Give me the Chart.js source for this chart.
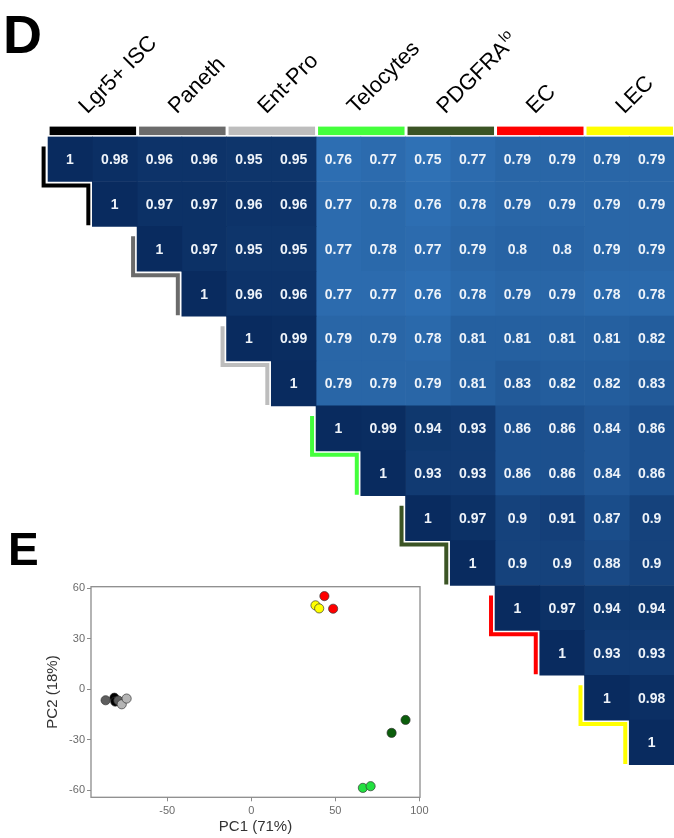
<!DOCTYPE html>
<html>
<head>
<meta charset="utf-8">
<script src="https://cdn.jsdelivr.net/npm/chart.js@4.4.1/dist/chart.umd.min.js"></script>
<style>
  html, body { margin: 0; padding: 0; background: #fff; }
  #wrap { position: relative; width: 674px; height: 838px; overflow: hidden; }
  #corrChart { position: absolute; left: 0; top: 0; }
  #pcaChart { position: absolute; left: 0; top: 560px; }
</style>
</head>
<body>
<div id="wrap">
  <canvas id="corrChart" width="674" height="838"></canvas>
  <canvas id="pcaChart" width="460" height="278"></canvas>
</div>
<script>
// cell populations, two replicates each
const groupNames = ['Lgr5+ ISC', 'Paneth', 'Ent-Pro', 'Telocytes', 'PDGFRA', 'EC', 'LEC'];
const groupSup = ['', '', '', '', 'lo', '', ''];
const groupBarColors = ['#000000', '#6b6b6b', '#bdbdbd', '#44ff3c', '#3b5424', '#ff0000', '#ffff00'];
const pointColors = ['#000000', '#5e5e5e', '#b4b4b4', '#22e040', '#0b5e0b', '#ff0000', '#ffff00'];

// upper triangle of the correlation matrix, each row starts at the diagonal
const corrRows = [
  [1, 0.98, 0.96, 0.96, 0.95, 0.95, 0.76, 0.77, 0.75, 0.77, 0.79, 0.79, 0.79, 0.79],
  [1, 0.97, 0.97, 0.96, 0.96, 0.77, 0.78, 0.76, 0.78, 0.79, 0.79, 0.79, 0.79],
  [1, 0.97, 0.95, 0.95, 0.77, 0.78, 0.77, 0.79, 0.8, 0.8, 0.79, 0.79],
  [1, 0.96, 0.96, 0.77, 0.77, 0.76, 0.78, 0.79, 0.79, 0.78, 0.78],
  [1, 0.99, 0.79, 0.79, 0.78, 0.81, 0.81, 0.81, 0.81, 0.82],
  [1, 0.79, 0.79, 0.79, 0.81, 0.83, 0.82, 0.82, 0.83],
  [1, 0.99, 0.94, 0.93, 0.86, 0.86, 0.84, 0.86],
  [1, 0.93, 0.93, 0.86, 0.86, 0.84, 0.86],
  [1, 0.97, 0.9, 0.91, 0.87, 0.9],
  [1, 0.9, 0.9, 0.88, 0.9],
  [1, 0.97, 0.94, 0.94],
  [1, 0.93, 0.93],
  [1, 0.98],
  [1]
];

// PCA scores, same sample order (2 per group)
const pc1 = [-81.5, -81, -86.7, -79.1, -77.1, -74.2, 66.4, 71, 83.5, 91.8, 43.5, 48.7, 38.2, 40.4];
const pc2 = [-5, -7.3, -6.5, -6.7, -8.9, -5.5, -58.6, -57.6, -25.9, -18.2, 55.4, 47.9, 49.9, 48.1];
const pc1Ticks = [-50, 0, 50, 100];
const pc2Ticks = [-60, -30, 0, 30, 60];

Chart.defaults.font.family = "'Liberation Sans', Arial, sans-serif";

const nSamples = corrRows.length;
const sampleLabels = groupNames.flatMap(g => [g + ' 1', g + ' 2']);
const corrAt = (i, j) => corrRows[i][j - i];

// blue ramp, light for ~0.75, navy for 1
const rampStops = [
  [0.75, [47, 113, 181]], [0.8, [39, 99, 164]], [0.86, [28, 80, 142]],
  [0.9, [21, 66, 124]], [0.95, [14, 53, 107]], [1, [9, 43, 95]]
];
function cellColor(v) {
  for (let k = 1; k < rampStops.length; k++) {
    const [v0, c0] = rampStops[k - 1], [v1, c1] = rampStops[k];
    if (v <= v1 || k === rampStops.length - 1) {
      const t = Math.max(0, Math.min(1, (v - v0) / (v1 - v0)));
      return 'rgb(' + c0.map((c, n) => Math.round(c + (c1[n] - c) * t)).join(',') + ')';
    }
  }
}

// one floating-bar dataset per column, cells only on/above the diagonal
const corrDatasets = sampleLabels.map((lab, j) => ({
  label: lab,
  data: sampleLabels.map((_, i) => i <= j ? [j, j + 1] : null),
  backgroundColor: sampleLabels.map((_, i) => i <= j ? cellColor(corrAt(i, j)) : 'rgba(0,0,0,0)'),
  borderWidth: 0,
  grouped: false,
  barPercentage: 1,
  categoryPercentage: 1
}));

const cellText = {
  id: 'cellText',
  afterDatasetsDraw(chart) {
    const ctx = chart.ctx;
    ctx.save();
    ctx.fillStyle = '#eef3f9';
    ctx.font = "bold 14px 'Liberation Sans', Arial, sans-serif";
    ctx.textAlign = 'center';
    ctx.textBaseline = 'middle';
    chart.data.datasets.forEach((ds, j) => {
      chart.getDatasetMeta(j).data.forEach((el, i) => {
        if (i > j) return;
        ctx.fillText(String(corrAt(i, j)), (el.x + el.base) / 2, el.y + 1);
      });
    });
    ctx.restore();
  }
};

const groupDecor = {
  id: 'groupDecor',
  afterDraw(chart) {
    const ctx = chart.ctx, xs = chart.scales.x, ys = chart.scales.y;
    const top = chart.chartArea.top;
    const band = ys.getPixelForValue(1) - ys.getPixelForValue(0);
    ctx.save();
    groupNames.forEach((name, g) => {
      const x0 = xs.getPixelForValue(2 * g), x1 = xs.getPixelForValue(2 * g + 2);
      // colour bar above the columns
      ctx.fillStyle = groupBarColors[g];
      ctx.fillRect(x0 + 2, top - 10, x1 - x0 - 3, 8.5);
      // slanted header
      ctx.save();
      ctx.translate((x0 + x1) / 2 - 5, top - 22);
      ctx.rotate(-Math.PI / 4);
      ctx.fillStyle = '#000';
      ctx.textAlign = 'left';
      ctx.textBaseline = 'alphabetic';
      ctx.font = "22px 'Liberation Sans', Arial, sans-serif";
      ctx.fillText(name, 0, 0);
      if (groupSup[g]) {
        const w = ctx.measureText(name).width;
        ctx.font = "14px 'Liberation Sans', Arial, sans-serif";
        ctx.fillText(groupSup[g], w + 1, -9);
      }
      ctx.restore();
      // staircase along the diagonal
      const r0 = 2 * g, r1 = 2 * g + 1;
      const xa = xs.getPixelForValue(r0) - 4, xb = xs.getPixelForValue(r1) - 4;
      const y0 = ys.getPixelForValue(r0) - band / 2, y1 = ys.getPixelForValue(r1) - band / 2;
      ctx.strokeStyle = groupBarColors[g];
      ctx.lineWidth = 4;
      ctx.lineJoin = 'miter';
      ctx.beginPath();
      ctx.moveTo(xa, y0 + 10);
      ctx.lineTo(xa, y1 + 4);
      ctx.lineTo(xb, y1 + 4);
      ctx.lineTo(xb, y1 + band - 1);
      ctx.stroke();
    });
    // panel letters
    ctx.fillStyle = '#000';
    ctx.textAlign = 'left';
    ctx.textBaseline = 'alphabetic';
    ctx.font = "bold 54px 'Liberation Sans', Arial, sans-serif";
    ctx.fillText('D', 3, 53);
    ctx.font = "bold 46px 'Liberation Sans', Arial, sans-serif";
    ctx.fillText('E', 8, 565);
    ctx.restore();
  }
};

new Chart(document.getElementById('corrChart'), {
  type: 'bar',
  data: { labels: sampleLabels, datasets: corrDatasets },
  options: {
    indexAxis: 'y',
    responsive: false,
    animation: false,
    layout: { padding: { left: 47.6, right: 0, top: 136.6, bottom: 73 } },
    plugins: { legend: { display: false }, tooltip: { enabled: false } },
    scales: {
      x: { type: 'linear', min: 0, max: nSamples, display: false },
      y: { type: 'category', display: false }
    }
  },
  plugins: [cellText, groupDecor]
});

// PCA scatter
const pcaDatasets = groupNames.map((name, g) => ({
  label: name,
  data: [0, 1].map(k => ({ x: pc1[2 * g + k], y: pc2[2 * g + k] })),
  backgroundColor: pointColors[g],
  borderColor: 'rgba(50,50,50,0.85)',
  borderWidth: 0.8,
  pointRadius: 4.6,
  order: groupNames.length - g
}));

const frame = {
  id: 'frame',
  beforeDatasetsDraw(chart) {
    const a = chart.chartArea, ctx = chart.ctx;
    ctx.save();
    ctx.strokeStyle = '#8c8c8c';
    ctx.lineWidth = 1.3;
    ctx.strokeRect(a.left, a.top, a.right - a.left, a.bottom - a.top);
    ctx.restore();
  }
};

new Chart(document.getElementById('pcaChart'), {
  type: 'scatter',
  data: { datasets: pcaDatasets },
  options: {
    responsive: false,
    animation: false,
    layout: { padding: { left: 40, right: 40, top: 26.7, bottom: 0 } },
    plugins: { legend: { display: false }, tooltip: { enabled: false } },
    scales: {
      x: {
        min: -95.4, max: 100.4,
        afterBuildTicks: s => { s.ticks = pc1Ticks.map(v => ({ value: v })); },
        afterFit: s => { s.height = 40.7; },
        grid: { drawOnChartArea: false, drawTicks: true, tickLength: 4, color: '#8c8c8c' },
        border: { display: false },
        ticks: { color: '#6b6b6b', font: { size: 11 }, padding: 3, maxRotation: 0 },
        title: { display: true, text: 'PC1 (71%)', color: '#333', font: { size: 15 }, padding: { top: 0, bottom: 2 } }
      },
      y: {
        min: -64.2, max: 61,
        afterBuildTicks: s => { s.ticks = pc2Ticks.map(v => ({ value: v })); },
        afterFit: s => { s.width = 51; },
        grid: { drawOnChartArea: false, drawTicks: true, tickLength: 4, color: '#8c8c8c' },
        border: { display: false },
        ticks: { color: '#6b6b6b', font: { size: 11 }, padding: 2 },
        title: { display: true, text: 'PC2 (18%)', color: '#333', font: { size: 15 }, padding: { top: 4, bottom: 0 } }
      }
    }
  },
  plugins: [frame]
});
</script>
</body>
</html>
